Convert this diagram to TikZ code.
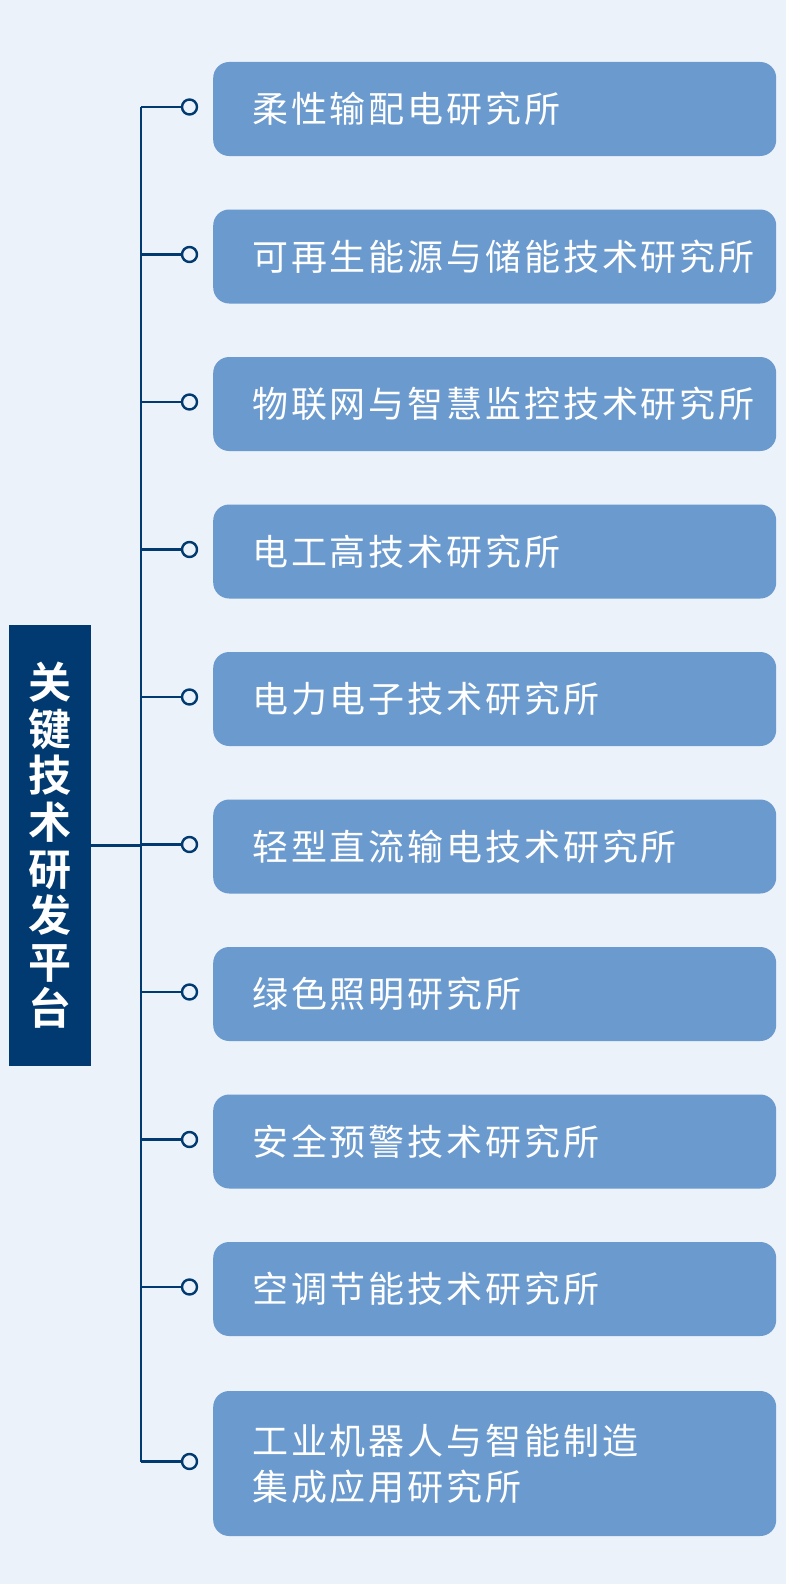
\documentclass[tikz,border=0pt]{standalone}
\usepackage{fontspec}
\newfontfamily\cjk[LetterSpace=8]{Noto Sans CJK SC}
\newfontfamily\cjkbold{Noto Sans CJK SC Bold}
\definecolor{bgblue}{HTML}{EBF2F9}
\definecolor{navy}{HTML}{003A70}
\definecolor{boxblue}{HTML}{6B9ACF}
\tikzset{
  inst/.style={fill=boxblue, rounded corners=16pt, anchor=west, minimum height=94pt,
    text width=485pt, inner xsep=39pt, align=left, text=white,
    font=\cjk\fontsize{36}{46}\selectfont},
  dot/.style={circle, draw=navy, line width=2.4pt, fill=bgblue, minimum size=15pt, inner sep=0pt},
  trunk/.style={draw=navy, line width=2.6pt}
}
\begin{document}
\begin{tikzpicture}[x=1pt,y=-1pt, line join=round]
	\fill[bgblue] (0,0) rectangle (786,1584);
	\useasboundingbox (0,0) rectangle (786,1584);
	% platform
	\node[fill=navy, text=white, minimum width=82pt, minimum height=441pt, text width=60pt, align=center,
	  inner sep=0pt, font=\cjkbold\fontsize{43}{46.6}\selectfont] (plat) at (50,845.5)
	  {关\\键\\技\\术\\研\\发\\平\\台};
	% institutes
	\foreach \i/\y/\h/\t in {1/109/94/柔性输配电研究所,
		2/256.5/94/可再生能源与储能技术研究所,
		3/404/94/物联网与智慧监控技术研究所,
		4/551.5/94/电工高技术研究所,
		5/699/94/电力电子技术研究所,
		6/846.5/94/轻型直流输电技术研究所,
		7/994/94/绿色照明研究所,
		8/1141.5/94/安全预警技术研究所,
		9/1289/94/空调节能技术研究所,
		10/1463.5/145/{工业机器人与智能制造\\集成应用研究所}}{
		\node[inst, minimum height=\h pt] (box\i) at (213,\y) {\t};
		\coordinate (t\i) at (141,\y-2);
		\node[dot] (c\i) at (189.5,\y-2) {};
		\draw[trunk] (t\i) -- (c\i);
	}
	\draw[trunk] (t1) -- (t10);
	\draw[trunk] (plat.east) -- (plat.east -| t1);
\end{tikzpicture}
\end{document}
